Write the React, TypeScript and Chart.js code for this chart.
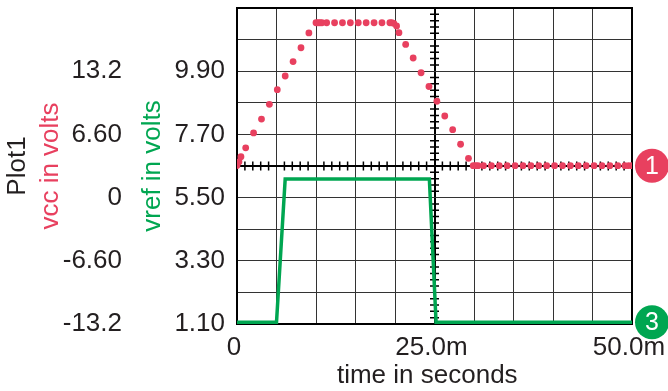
import { useEffect, useRef } from 'react';
import { Chart, registerables } from 'chart.js';

Chart.register(...registerables);

// time in ms
const vccTime = [
  0, 0.25, 0.5, 1.1, 2.1, 3.1, 4.1, 5.1, 6.1, 7.1, 8.1, 9.1,
  10.0, 10.25, 10.5, 10.75, 11.35, 12.35, 13.35, 14.35, 15.35, 16.35, 17.35, 18.35,
  19.35, 19.6, 19.85, 20.2, 20.5, 21.35, 22.3, 23.3, 24.3, 25.3, 26.3, 27.3, 28.3, 29.3,
  29.9, 30.2, 30.5, 31.2, 32.2, 33.2, 34.2, 35.2, 36.2, 37.2, 38.2, 39.2, 40.2, 41.2,
  42.2, 43.2, 44.2, 45.2, 46.2, 47.2, 48.2, 49.1, 49.6, 50,
];
const vccValues = [
  3.35, 3.75, 4.27, 5.2, 6.75, 8.2, 9.74, 11.27, 12.7, 14.2, 15.65, 17.2,
  18.26, 18.26, 18.26, 18.26, 18.26, 18.26, 18.26, 18.26, 18.26, 18.26, 18.26, 18.26,
  18.26, 18.26, 18.2, 17.92, 17.22, 16.0, 14.58, 13.04, 11.6, 10.06, 8.52, 7.09, 5.57, 4.1,
  3.33, 3.33, 3.33, 3.33, 3.33, 3.33, 3.33, 3.33, 3.33, 3.33, 3.33, 3.33, 3.33, 3.33,
  3.33, 3.33, 3.33, 3.33, 3.33, 3.33, 3.33, 3.33, 3.33, 3.33,
];

const vrefTime = [0, 5.0, 6.1, 24.35, 25.2, 50];
const vrefValues = [1.16, 1.16, 6.15, 6.15, 1.16, 1.16];

const timeTicks = [0, 5, 10, 15, 20, 25, 30, 35, 40, 45, 50];
const timeTickLabels = ['0', '', '', '', '', '25.0m', '', '', '', '', '50.0m'];
const vccTicks = [-13.2, -9.9, -6.6, -3.3, 0, 3.3, 6.6, 9.9, 13.2, 16.5, 19.8];
const vccTickLabels = ['-13.2', '', '-6.60', '', '0', '', '6.60', '', '13.2', '', ''];
const vrefTicks = [1.1, 2.2, 3.3, 4.4, 5.5, 6.6, 7.7, 8.8, 9.9, 11.0, 12.1];
const vrefTickLabels = ['1.10', '', '3.30', '', '5.50', '', '7.70', '', '9.90', '', ''];

const RED = '#e8405f';
const GREEN = '#00a651';
const TEXT = '#231f20';
const FONT = '"Liberation Sans", Arial, Helvetica, sans-serif';
const FS = 26;

const zeroPad = (s: any) => {
  s.paddingTop = 0;
  s.paddingBottom = 0;
  s.paddingLeft = 0;
  s.paddingRight = 0;
};

const decorPlugin = {
  id: 'decor',
  beforeDatasetsDraw(chart: any) {
    const { ctx, chartArea, scales } = chart;
    const x = scales.x;
    const y = scales.yVcc;
    const cy = y.getPixelForValue(3.3);
    const cx = x.getPixelForValue(25);
    ctx.save();
    ctx.strokeStyle = '#000';
    ctx.lineWidth = 1.5;
    ctx.beginPath();
    for (let t = 0; t <= 50; t += 1) {
      if (t % 5 === 0) continue;
      const px = x.getPixelForValue(t);
      ctx.moveTo(px, cy - 4.5);
      ctx.lineTo(px, cy + 4.5);
    }
    for (let j = 0; j <= 50; j++) {
      if (j % 5 === 0) continue;
      const py = y.getPixelForValue(-13.2 + j * 0.66);
      ctx.moveTo(cx - 4.5, py);
      ctx.lineTo(cx + 4.5, py);
    }
    ctx.stroke();
    ctx.lineWidth = 2;
    ctx.strokeRect(chartArea.left, chartArea.top, chartArea.right - chartArea.left, chartArea.bottom - chartArea.top);
    ctx.restore();
  },
  afterDraw(chart: any) {
    const { ctx, scales } = chart;
    const markers = [
      { label: '1', color: RED, py: scales.yVcc.getPixelForValue(vccValues[vccValues.length - 1]) },
      { label: '3', color: GREEN, py: scales.yVref.getPixelForValue(vrefValues[vrefValues.length - 1]) },
    ];
    ctx.save();
    for (const m of markers) {
      ctx.fillStyle = m.color;
      ctx.beginPath();
      ctx.arc(652, m.py, 17, 0, Math.PI * 2);
      ctx.fill();
      ctx.fillStyle = '#fff';
      ctx.font = `25px ${FONT}`;
      ctx.textAlign = 'center';
      ctx.textBaseline = 'middle';
      ctx.fillText(m.label, 652, m.py + 1);
    }
    ctx.restore();
  },
};

export default function App() {
  const ref = useRef<HTMLCanvasElement>(null);
  useEffect(() => {
    if (!ref.current) return;
    const tickFont = { family: FONT, size: FS };
    const chart = new Chart(ref.current, {
      type: 'scatter',
      data: {
        datasets: [
          {
            label: 'vref',
            data: vrefTime.map((t, i) => ({ x: t, y: vrefValues[i] })),
            yAxisID: 'yVref',
            showLine: true,
            borderColor: GREEN,
            borderWidth: 3.5,
            pointRadius: 0,
            backgroundColor: GREEN,
          },
          {
            label: 'vcc',
            data: vccTime.map((t, i) => ({ x: t, y: vccValues[i] })),
            yAxisID: 'yVcc',
            showLine: false,
            pointRadius: 3.4,
            pointBorderWidth: 0,
            backgroundColor: RED,
            borderColor: RED,
          },
        ],
      },
      options: {
        animation: false,
        responsive: false,
        layout: { padding: { top: 8, right: 36, bottom: 0, left: 0 } },
        plugins: {
          legend: { display: false },
          tooltip: { enabled: false },
          title: { display: false },
        },
        scales: {
          x: {
            type: 'linear',
            min: 0,
            max: 50,
            afterBuildTicks: (s: any) => { s.ticks = timeTicks.map((v) => ({ value: v })); },
            afterFit: (s: any) => { s.height = 67; zeroPad(s); },
            ticks: {
              autoSkip: false,
              maxRotation: 0,
              padding: 8,
              labelOffset: -3,
              color: TEXT,
              font: tickFont,
              callback: (_v: any, i: number) => timeTickLabels[i],
            },
            grid: {
              drawTicks: false,
              color: (c: any) => (c.index === 5 ? '#000' : '#333'),
              lineWidth: (c: any) => (c.index === 5 ? 2 : 1),
            },
            border: { display: false },
            title: {
              display: true,
              text: 'time in seconds  ',
              color: TEXT,
              font: { family: FONT, size: FS },
              padding: { top: 0, bottom: 0 },
            },
          },
          yPlot: {
            type: 'linear',
            position: 'left',
            weight: 2,
            min: 0,
            max: 1,
            afterFit: (s: any) => { s.width = 33.6; zeroPad(s); },
            ticks: { display: false },
            grid: { display: false, drawTicks: false },
            border: { display: false },
            title: {
              display: true,
              text: 'Plot1',
              color: TEXT,
              font: { family: FONT, size: FS },
              padding: { top: 2.4, bottom: 0 },
            },
          },
          yVcc: {
            type: 'linear',
            position: 'left',
            weight: 1,
            min: -13.2,
            max: 19.8,
            afterBuildTicks: (s: any) => { s.ticks = vccTicks.map((v) => ({ value: v })); },
            afterFit: (s: any) => { s.width = 103.4; zeroPad(s); },
            ticks: {
              autoSkip: false,
              padding: 15,
              color: TEXT,
              font: tickFont,
              callback: (_v: any, i: number) => vccTickLabels[i],
            },
            grid: {
              drawTicks: false,
              color: (c: any) => (c.index === 5 ? '#000' : '#333'),
              lineWidth: (c: any) => (c.index === 5 ? 2 : 1),
            },
            border: { display: false },
            title: {
              display: true,
              text: 'vcc in volts',
              color: RED,
              font: { family: FONT, size: FS },
              padding: { top: 1.8, bottom: 0 },
            },
          },
          yVref: {
            type: 'linear',
            position: 'left',
            weight: 0,
            min: 1.1,
            max: 12.1,
            afterBuildTicks: (s: any) => { s.ticks = vrefTicks.map((v) => ({ value: v })); },
            afterFit: (s: any) => { s.width = 100; zeroPad(s); },
            ticks: {
              autoSkip: false,
              padding: 12,
              color: TEXT,
              font: tickFont,
              callback: (_v: any, i: number) => vrefTickLabels[i],
            },
            grid: { display: false, drawTicks: false },
            border: { display: false },
            title: {
              display: true,
              text: 'vref in volts',
              color: GREEN,
              font: { family: FONT, size: FS },
              padding: { top: 0.4, bottom: 0 },
            },
          },
        },
      } as any,
      plugins: [decorPlugin],
    });
    return () => chart.destroy();
  }, []);
  return (
    <div style={{ position: 'fixed', left: 0, top: 0, width: 668, height: 391, background: '#fff' }}>
      <canvas ref={ref} width={668} height={391} style={{ display: 'block' }} />
    </div>
  );
}
